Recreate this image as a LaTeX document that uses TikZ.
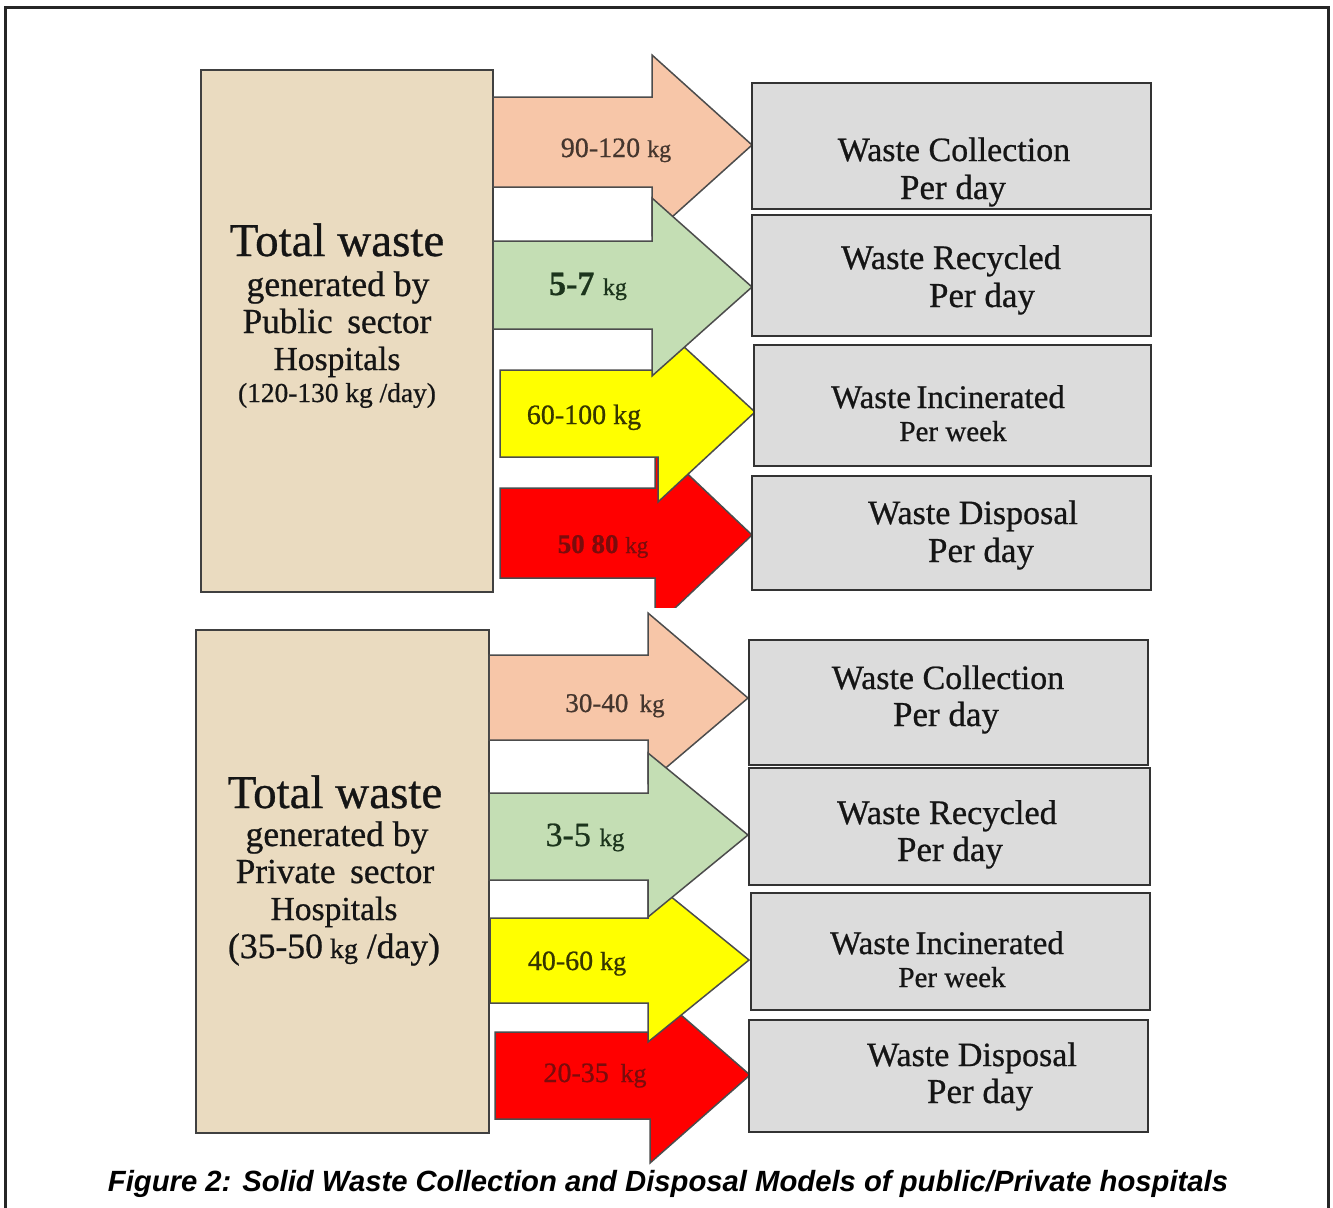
\documentclass[tikz,border=0pt]{standalone}
\usepackage{fontspec}
\setmainfont{Liberation Serif}
\newfontfamily\hserif{Liberation Serif}[FakeBold=0.7]
\newfontfamily\capfont{Liberation Sans}
\usepackage{graphicx}
\newcommand\fsz[1]{\fontsize{#1}{#1}\selectfont}
\definecolor{peach}{HTML}{F7C6A8}
\definecolor{lgreen}{HTML}{C4DEB4}
\definecolor{ayellow}{HTML}{FFFF00}
\definecolor{ared}{HTML}{FF0000}
\definecolor{boxgray}{HTML}{DCDCDC}
\definecolor{parch}{HTML}{EADBC0}
\definecolor{textdark}{HTML}{151515}
\definecolor{peachtxt}{HTML}{45362E}
\definecolor{greentxt}{HTML}{1C341C}
\definecolor{yellowtxt}{HTML}{363600}
\definecolor{redtxt}{HTML}{7A0C0C}
% block arrow: x0, body top, body bottom, head x, head top, tip x, tip y, head bottom
\newcommand\blockarr[9][]{%
  \draw[arr,#1] (#2,#3) -- (#5,#3) -- (#5,#6) -- (#7,#8) -- (#5,#9) -- (#5,#4) -- (#2,#4) -- cycle;}
\begin{document}
\begin{tikzpicture}[x=0.5pt,y=-0.5pt,
  tanbox/.style={draw=black!75, line width=1.2pt, fill=parch},
  graybox/.style={draw=black!80, line width=1.3pt, fill=boxgray},
  arr/.style={draw=black!70, line width=0.75pt, line join=miter},
  txt/.style={anchor=base, inner sep=0pt, text=textdark, font=\hserif},
  frame/.style={draw=black!85, line width=1.5pt}]
\useasboundingbox (0,0) rectangle (1333,1207);
\draw[frame] (5,1215) -- (5,7) -- (1328,7) -- (1328,1215);

% ---------- top section ----------
\draw[tanbox] (201,70) rectangle (493,592);
\begin{scope}
  \clip (0,0) rectangle (1333,607);
  \blockarr[fill=ared]{500}{488}{578}{655}{443}{752}{535}{627}
\end{scope}
\blockarr[fill=ayellow]{500}{370}{457}{658}{323}{755}{412}{502}
\blockarr[fill=peach]{493}{97}{187}{652}{55}{752}{145}{235}
\blockarr[fill=lgreen]{493}{241}{329}{652}{198}{752}{287}{376}

\draw[graybox] (752,83) rectangle (1151,209);
\draw[graybox] (752,215) rectangle (1151,336);
\draw[graybox] (754,345) rectangle (1151,466);
\draw[graybox] (752,476) rectangle (1151,590);

\node[txt] (t1a) at (337,256) {\fsz{23.5}Total waste};
\node[txt] (t1b) at (338,296) {\fsz{17.8}generated by};
\node[txt] (t1c) at (337,333) {\fsz{17.6}Public\, sector};
\node[txt] (t1d) at (337,370) {\fsz{16.8}Hospitals};
\node[txt] (t1e) at (337,402) {\fsz{13.7}(120-130 kg /day)};

\node[txt,text=peachtxt] (l1) at (616,157) {\fsz{14}90-120 {\fsz{12}kg}};
\node[txt,text=greentxt] (l2) at (588,295) {\fsz{17}\textbf{5-7} {\fsz{12}kg}};
\node[txt,text=yellowtxt] (l3) at (584,424) {\fsz{14}60-100 kg};
\node[txt,text=redtxt] (l4) at (603,553) {\fsz{13.5}\textbf{50 80} {\fsz{11.5}kg}};

\node[txt] (b1a) at (954,161) {\fsz{17}Waste Collection};
\node[txt] (b1b) at (953,199) {\fsz{17.5}Per day};
\node[txt] (b2a) at (951,269) {\fsz{17.2}Waste Recycled};
\node[txt] (b2b) at (982,307) {\fsz{17.5}Per day};
\node[txt] (b3a) at (948,408) {\fsz{16.5}Waste\,Incinerated};
\node[txt] (b3b) at (953,441) {\fsz{14.5}Per week};
\node[txt] (b4a) at (973,524) {\fsz{17}Waste Disposal};
\node[txt] (b4b) at (981,562) {\fsz{17.5}Per day};

% ---------- bottom section ----------
\draw[tanbox] (196,630) rectangle (489,1133);
\blockarr[fill=ared]{495}{1032}{1119}{650}{988}{750}{1075}{1163}
\blockarr[fill=ayellow]{490}{918}{1003}{648}{878}{749}{960}{1042}
\blockarr[fill=peach]{489}{655}{740}{648}{613}{748}{698}{783}
\blockarr[fill=lgreen]{489}{793}{880}{648}{753}{748}{835}{917}

\draw[graybox] (749,640) rectangle (1148,765);
\draw[graybox] (749,768) rectangle (1150,885);
\draw[graybox] (751,893) rectangle (1150,1010);
\draw[graybox] (749,1020) rectangle (1148,1132);

\node[txt] (t2a) at (335,808) {\fsz{23.5}Total waste};
\node[txt] (t2b) at (337,846) {\fsz{17.8}generated by};
\node[txt] (t2c) at (335,883) {\fsz{17.6}Private\, sector};
\node[txt] (t2d) at (334,920) {\fsz{16.8}Hospitals};
\node[txt] (t2e) at (334,958) {\fsz{17.8}(35-50{\fsz{14} kg} /day)};

\node[txt,text=peachtxt] (m1) at (615,712) {\fsz{13.5}30-40\, {\fsz{12.5}kg}};
\node[txt,text=greentxt] (m2) at (585,846) {\fsz{17}3-5 {\fsz{12.5}kg}};
\node[txt,text=yellowtxt] (m3) at (577,970) {\fsz{14}40-60 {\fsz{13}kg}};
\node[txt,text=redtxt] (m4) at (595,1082) {\fsz{14}20-35\, {\fsz{13}kg}};

\node[txt] (c1a) at (948,689) {\fsz{17}Waste Collection};
\node[txt] (c1b) at (946,726) {\fsz{17.5}Per day};
\node[txt] (c2a) at (947,824) {\fsz{17.2}Waste Recycled};
\node[txt] (c2b) at (950,861) {\fsz{17.5}Per day};
\node[txt] (c3a) at (947,954) {\fsz{16.5}Waste\,Incinerated};
\node[txt] (c3b) at (952,987) {\fsz{14.5}Per week};
\node[txt] (c4a) at (972,1066) {\fsz{17}Waste Disposal};
\node[txt] (c4b) at (980,1103) {\fsz{17.5}Per day};

% ---------- caption ----------
\node[anchor=base, inner sep=0pt, text=black] (cap) at (668,1191)
  {\resizebox{560pt}{!}{\capfont\bfseries\itshape Figure 2: Solid Waste Collection and Disposal Models of public/Private hospitals}};
\end{tikzpicture}
\end{document}
